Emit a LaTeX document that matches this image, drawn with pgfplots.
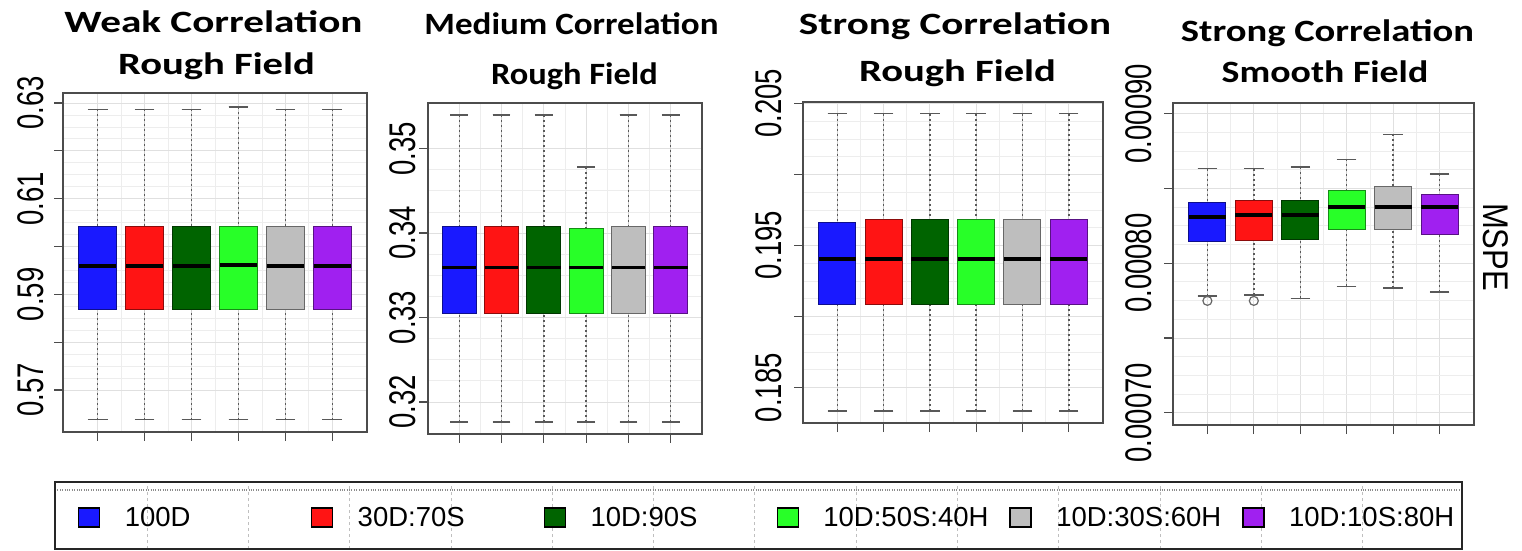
\documentclass[border=0pt]{standalone}
\usepackage{fontspec}
\setmainfont{Liberation Sans}
\newfontfamily\calfont{Carlito}
\usepackage{graphicx}
\usepackage{pgfplots}
\pgfplotsset{compat=1.18}
\usepgfplotslibrary{statistics}
\definecolor{cBlue}{RGB}{25,25,255}
\definecolor{cRed}{RGB}{255,20,20}
\definecolor{cDGreen}{RGB}{0,100,0}
\definecolor{cGreen}{RGB}{40,255,40}
\definecolor{cGray}{RGB}{190,190,190}
\definecolor{cPurple}{RGB}{160,32,240}
\newcommand{\tl}[1]{\scalebox{1}[1.35]{#1}}
\newcommand{\ttl}[2]{\scalebox{#1}[1]{\fontsize{31bp}{34bp}\selectfont\calfont\bfseries #2}}
\newcommand{\bp}[7]{\addplot[mybox=#1, boxplot prepared={draw position=#2, lower whisker=#3, lower quartile=#4, median=#5, upper quartile=#6, upper whisker=#7}] coordinates {};}

\pgfplotsset{
  mybox/.style={fill=#1, draw=#1!55!black, line width=1bp, solid},
  panel/.style={
    scale only axis, anchor=south west,
    xmin=0.26, xmax=6.74,
    xtick={1,2,3,4,5,6}, xticklabels={},
    minor x tick num=1,
    tick align=outside, xtick pos=bottom, ytick pos=left,
    major tick length=9bp, minor tick length=0pt,
    tick style={line width=1.2bp, black!70},
    grid=both,
    major grid style={line width=0.8bp, black!12},
    minor grid style={line width=0.8bp, black!7},
    axis line style={line width=1.6bp, black!70},
    scaled y ticks=false,
    boxplot/draw direction=y,
    boxplot/box extend=0.8,
    boxplot/whisker extend=0.42,
    boxplot/every median/.style={line width=3.5bp, black},
    boxplot/draw/lower whisker/.code={
      \draw[line width=1.5bp, black!65, dash pattern=on 2bp off 3bp]
        (boxplot box cs:\pgfplotsboxplotvalue{lower whisker},0.5) -- (boxplot box cs:\pgfplotsboxplotvalue{lower quartile},0.5);
      \draw[line width=1.4bp, black!65]
        (boxplot whisker cs:\pgfplotsboxplotvalue{lower whisker},0) -- (boxplot whisker cs:\pgfplotsboxplotvalue{lower whisker},1);
    },
    boxplot/draw/upper whisker/.code={
      \draw[line width=1.5bp, black!65, dash pattern=on 2bp off 3bp]
        (boxplot box cs:\pgfplotsboxplotvalue{upper whisker},0.5) -- (boxplot box cs:\pgfplotsboxplotvalue{upper quartile},0.5);
      \draw[line width=1.4bp, black!65]
        (boxplot whisker cs:\pgfplotsboxplotvalue{upper whisker},0) -- (boxplot whisker cs:\pgfplotsboxplotvalue{upper whisker},1);
    },
  },
  ylab/.style={yticklabel style={xshift=#1, rotate=90, anchor=south, inner sep=0pt, font=\fontsize{27.5bp}{30bp}\selectfont}},
}

\begin{document}
\begin{tikzpicture}
\useasboundingbox (0,0) rectangle (1522bp,551bp);

% Panel 1: Weak Correlation, Rough Field
\begin{axis}[panel, ylab=-10bp, at={(63bp,119bp)}, width=304bp, height=339bp,
  ymin=0.5612, ymax=0.6321,
  ytick={0.57,0.58,0.59,0.60,0.61,0.62,0.63},
  yticklabels={\tl{0.57},,\tl{0.59},,\tl{0.61},,\tl{0.63}},
  minor y tick num=3]
\bp{cBlue}{1}{0.5638}{0.5868}{0.5959}{0.6042}{0.6287}
\bp{cRed}{2}{0.5638}{0.5868}{0.5959}{0.6042}{0.6287}
\bp{cDGreen}{3}{0.5638}{0.5868}{0.5959}{0.6042}{0.6287}
\bp{cGreen}{4}{0.5638}{0.5868}{0.5961}{0.6042}{0.6292}
\bp{cGray}{5}{0.5638}{0.5868}{0.5959}{0.6042}{0.6287}
\bp{cPurple}{6}{0.5638}{0.5868}{0.5959}{0.6042}{0.6287}
\end{axis}

% Panel 2: Medium Correlation, Rough Field
\begin{axis}[panel, ylab=-3bp, at={(428bp,117bp)}, width=274bp, height=331bp,
  ymin=0.3162, ymax=0.3554,
  ytick={0.32,0.33,0.34,0.35},
  yticklabels={\tl{0.32},\tl{0.33},\tl{0.34},\tl{0.35}},
  minor y tick num=3]
\bp{cBlue}{1}{0.3176}{0.3305}{0.3359}{0.3408}{0.3540}
\bp{cRed}{2}{0.3176}{0.3305}{0.3359}{0.3408}{0.3540}
\bp{cDGreen}{3}{0.3176}{0.3305}{0.3359}{0.3408}{0.3540}
\bp{cGreen}{4}{0.3176}{0.3305}{0.3359}{0.3405}{0.3478}
\bp{cGray}{5}{0.3176}{0.3305}{0.3359}{0.3408}{0.3540}
\bp{cPurple}{6}{0.3176}{0.3305}{0.3359}{0.3408}{0.3540}
\end{axis}

% Panel 3: Strong Correlation, Rough Field
\begin{axis}[panel, ylab=-12bp, at={(803bp,128bp)}, width=300bp, height=321bp,
  ymin=0.18251, ymax=0.2051,
  ytick={0.185,0.190,0.195,0.200,0.205},
  yticklabels={\tl{0.185},,\tl{0.195},,\tl{0.205}},
  minor y tick num=3]
\bp{cBlue}{1}{0.18335}{0.19087}{0.19404}{0.19664}{0.20427}
\bp{cRed}{2}{0.18335}{0.19087}{0.19404}{0.19685}{0.20427}
\bp{cDGreen}{3}{0.18335}{0.19087}{0.19404}{0.19685}{0.20427}
\bp{cGreen}{4}{0.18335}{0.19087}{0.19404}{0.19685}{0.20427}
\bp{cGray}{5}{0.18335}{0.19087}{0.19404}{0.19685}{0.20427}
\bp{cPurple}{6}{0.18335}{0.19087}{0.19404}{0.19685}{0.20427}
\end{axis}

% Panel 4: Strong Correlation, Smooth Field
\begin{axis}[panel, ylab=-12bp, at={(1173bp,126bp)}, width=301bp, height=322bp,
  ymin=0.0006918, ymax=0.0009071,
  ytick={0.00070,0.00075,0.00080,0.00085,0.00090},
  yticklabels={\tl{0.00070},,\tl{0.00080},,\tl{0.00090}},
  minor y tick num=3]
\addplot[mybox=cBlue, mark=o, mark size=4.5bp, mark options={draw=black!60, line width=1.2bp, fill=none},
  boxplot prepared={draw position=1, lower whisker=0.0007780, lower quartile=0.0008147, median=0.0008309, upper quartile=0.0008403, upper whisker=0.0008633}]
  coordinates {(0,0.0007748)};
\addplot[mybox=cRed, mark=o, mark size=4.5bp, mark options={draw=black!60, line width=1.2bp, fill=none},
  boxplot prepared={draw position=2, lower whisker=0.0007786, lower quartile=0.0008149, median=0.0008321, upper quartile=0.0008416, upper whisker=0.0008633}]
  coordinates {(0,0.0007748)};
\bp{cDGreen}{3}{0.0007764}{0.0008158}{0.0008321}{0.0008416}{0.0008643}
\bp{cGreen}{4}{0.0007846}{0.0008227}{0.0008376}{0.0008483}{0.0008695}
\bp{cGray}{5}{0.0007835}{0.0008227}{0.0008376}{0.0008514}{0.0008862}
\bp{cPurple}{6}{0.0007806}{0.0008192}{0.0008376}{0.0008461}{0.0008595}
\end{axis}

% Legend panel
\begin{axis}[at={(55bp,2bp)}, anchor=south west, scale only axis,
  width=1407bp, height=67bp,
  xmin=55, xmax=1462, ymin=2, ymax=69,
  xtick={147,248.3,349.6,450.9,552.2,653.5,754.8,856.1,957.4,1058.7,1160,1261.3,1362.6},
  ytick={61}, xticklabels={}, yticklabels={},
  major tick length=0pt, grid=major,
  x grid style={dashed, black!25, line width=0.8bp},
  y grid style={dotted, black!45, line width=1.2bp},
  axis line style={line width=2bp, black!85},
  legend columns=6,
  legend image code/.code={\draw[#1, line width=1.3bp] (0bp,-9.5bp) rectangle (21bp,9.5bp); \path (46bp,0bp);},
  legend style={draw=none, fill=none, at={(0.01635,0.47)}, anchor=west,
    inner sep=0pt, outer sep=0pt, font=\fontsize{27.5bp}{30bp}\selectfont,
    nodes={inner sep=0pt}, cells={anchor=west},
    /tikz/every odd column/.style={column sep=0pt},
    /tikz/every even column/.style={column sep=0pt}}]
\addlegendimage{fill=cBlue, draw=black}
\addlegendentry{\makebox[186bp][l]{100D}}
\addlegendimage{fill=cRed, draw=black}
\addlegendentry{\makebox[186bp][l]{30D:70S}}
\addlegendimage{fill=cDGreen, draw=black}
\addlegendentry{\makebox[186bp][l]{10D:90S}}
\addlegendimage{fill=cGreen, draw=black}
\addlegendentry{\makebox[186bp][l]{10D:50S:40H}}
\addlegendimage{fill=cGray, draw=black}
\addlegendentry{\makebox[186bp][l]{10D:30S:60H}}
\addlegendimage{fill=cPurple, draw=black}
\addlegendentry{\makebox[186bp][l]{10D:10S:80H}}
\end{axis}

% Titles
\node[anchor=base] at (213.5bp,518bp) {\ttl{1.33}{Weak Correlation}};
\node[anchor=base] at (216.5bp,476bp) {\ttl{1.31}{Rough Field}};
\node[anchor=base] at (571.5bp,516bp) {\ttl{1.13}{Medium Correlation}};
\node[anchor=base] at (574.5bp,466bp) {\ttl{1.11}{Rough Field}};
\node[anchor=base] at (955bp,516bp) {\ttl{1.325}{Strong Correlation}};
\node[anchor=base] at (957.5bp,469bp) {\ttl{1.31}{Rough Field}};
\node[anchor=base] at (1327.5bp,509bp) {\ttl{1.245}{Strong Correlation}};
\node[anchor=base] at (1325bp,468bp) {\ttl{1.22}{Smooth Field}};
\node[rotate=-90, inner sep=0pt, font=\fontsize{31bp}{34bp}\selectfont] at (1496bp,304bp) {\scalebox{1}[1.15]{MSPE}};
\end{tikzpicture}
\end{document}
